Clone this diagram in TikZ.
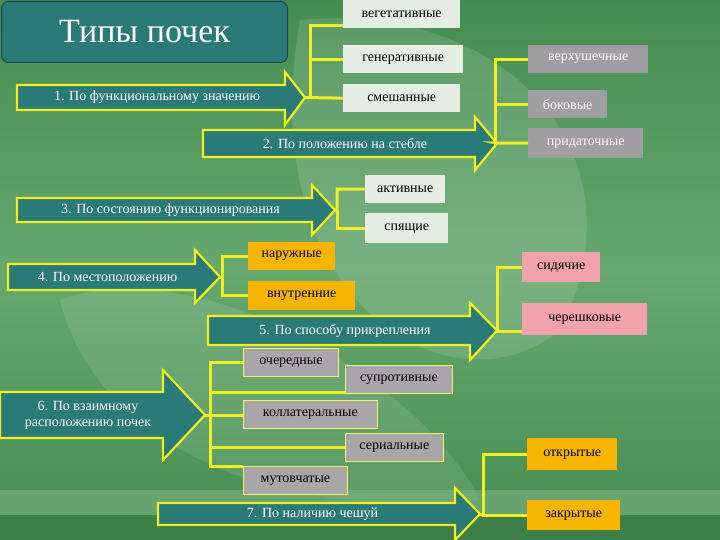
\documentclass[tikz,border=0pt]{standalone}
\usepackage{fontspec}
\setmainfont{Liberation Serif}
\begin{document}
\begin{tikzpicture}[x=1pt,y=-1pt,
  ar/.style={fill=teal1,draw=yel,line width=2.2pt,line join=miter},
  atext/.style={text=white,font=\fontsize{14}{16}\selectfont,inner sep=0pt},
  bx/.style={anchor=north west,inner sep=0pt,font=\fontsize{14}{16}\selectfont},
  lt/.style={bx,fill=lightb},
  gr/.style={bx,fill=grayb,text=white},
  gr2/.style={bx,fill=grayc,draw=yel!70!white,line width=0.8pt},
  og/.style={bx,fill=orb},
  pk/.style={bx,fill=pkb},
  br/.style={draw=yel,line width=3pt}]
\definecolor{teal1}{HTML}{2A7A78}
\definecolor{yel}{HTML}{F0F020}
\definecolor{lightb}{HTML}{E6EEE4}
\definecolor{grayb}{HTML}{A09EA0}
\definecolor{grayc}{HTML}{A8A6A8}
\definecolor{orb}{HTML}{F7B500}
\definecolor{pkb}{HTML}{F2A2AA}
\definecolor{bg1}{HTML}{458C50}
\definecolor{bg2}{HTML}{66A870}
\useasboundingbox (0,0) rectangle (720,540);
\shade[top color=bg1,bottom color=bg1,middle color=bg2] (0,0) rectangle (720,540);
\fill[white,opacity=0.12] (300,20) .. controls (500,0) and (650,150) .. (560,330) .. controls (450,420) and (250,300) .. cycle;
\fill[white,opacity=0.1] (60,300) .. controls (200,250) and (420,380) .. (480,500) .. controls (300,520) and (100,460) .. cycle;
\fill[bg2!80!white,opacity=0.5] (0,490) rectangle (720,515);
\fill[bg1!80!black,opacity=0.5] (0,515) rectangle (720,540);
% title
\node[fill=teal1,draw=teal1!60!black,line width=1pt,rounded corners=7pt,anchor=north west,minimum width=286pt,minimum height=61pt,text=white,font=\fontsize{34}{38}\selectfont] (title) at (1,1) {Типы почек};
\newcommand\barrow[9]{%
  \path[ar] (#2,#4)--(#3,#4)--(#3,#6)--(#8,{(#4+#5)/2})--(#3,#7)--(#3,#5)--(#2,#5)--cycle;
  \coordinate (#1tip) at (#8,{(#4+#5)/2});
  \node[atext] (#1) at ({(#2+#3)/2+6},{(#4+#5)/2}) {#9};}
% boxes
\node[lt,minimum width=117pt,minimum height=28pt] (veg) at (343,0) {вегетативные};
\node[lt,minimum width=120pt,minimum height=28pt] (gen) at (343,45) {генеративные};
\node[lt,minimum width=117pt,minimum height=28pt] (sme) at (343,84) {смешанные};
\node[gr,minimum width=120pt,minimum height=28pt] (ver) at (528,45) {верхушечные};
\node[gr,minimum width=79pt,minimum height=28pt] (bok) at (528,90) {боковые};
\node[gr,minimum width=115pt,minimum height=30pt] (pri) at (528,128) {придаточные};
\node[lt,minimum width=80pt,minimum height=28pt] (akt) at (365,175) {активные};
\node[lt,minimum width=83pt,minimum height=30pt] (spy) at (365,213) {спящие};
\node[og,minimum width=87pt,minimum height=28pt] (nar) at (248,242) {наружные};
\node[og,minimum width=107pt,minimum height=29pt] (vnu) at (248,281) {внутренние};
\node[pk,minimum width=78pt,minimum height=30pt] (sid) at (522,252) {сидячие};
\node[pk,minimum width=125pt,minimum height=32pt] (che) at (522,303) {черешковые};
\node[gr2,minimum width=95pt,minimum height=28pt] (och) at (243,348) {очередные};
\node[gr2,minimum width=107pt,minimum height=28pt] (sup) at (345,365) {супротивные};
\node[gr2,minimum width=134pt,minimum height=28pt] (kol) at (243,400) {коллатеральные};
\node[gr2,minimum width=98pt,minimum height=28pt] (ser) at (345,433) {сериальные};
\node[gr2,minimum width=104pt,minimum height=28pt] (mut) at (243,466) {мутовчатые};
\node[og,minimum width=90pt,minimum height=32pt] (otk) at (527,438) {открытые};
\node[og,minimum width=93pt,minimum height=30pt] (zak) at (527,500) {закрытые};
% arrows
\barrow{a1}{17}{285}{85}{110}{72}{125}{305}{1. По функциональному значению}
\barrow{a2}{203}{475}{130}{157}{117}{170}{497}{2. По положению на стебле}
\barrow{a3}{17}{312}{198}{222}{185}{235}{335}{3. По состоянию функционирования}
\barrow{a4}{8}{195}{264}{290}{250}{303}{220}{4. По местоположению}
\barrow{a5}{208}{470}{316}{345}{303}{360}{497}{5. По способу прикрепления}
\path[ar] (0,392)--(163,392)--(163,370)--(205,415)--(163,460)--(163,438)--(0,438)--cycle;
\coordinate (a6tip) at (205,415);
\node[atext,align=center] (a6) at (88,415) {6. По взаимному\\расположению почек};
\barrow{a7}{158}{455}{503}{525}{488}{540}{480}{7. По наличию чешуй}
% brackets
\draw[br] (a1tip) -| (310,26) -- (veg.south west|-0,26);
\draw[br] (310,60) |- (gen.west);
\draw[br] (a1tip) -- (sme.west);
\draw[br] (a2tip) -| (ver.west-|495,0) -- (ver.west);
\draw[br] (495,104) |- (bok.west);
\draw[br] (a2tip) -- (495,143) -- (pri.west);
\draw[br] (a3tip) -| (337,189) -- (akt.west);
\draw[br] (337,210) |- (spy.west);
\draw[br] (a4tip) -| (nar.west-|222,0) -- (nar.west);
\draw[br] (222,277) |- (vnu.west);
\draw[br] (a5tip) -| (sid.west-|497,0) -- (sid.west);
\draw[br] (497,331) -- (che.west|-497,331);
\draw[br] (a6tip) -- (210,415) |- (och.west);
\draw[br] (210,392) -- (sup.west|-0,392);
\draw[br] (a6tip) -- (kol.west|-0,415);
\draw[br] (210,415) |- (ser.west|-0,447);
\draw[br] (210,445) |- (mut.north west);
\draw[br] (a7tip) -| (otk.west-|483,0) -- (otk.west);
\draw[br] (483,513) |- (zak.west);
\end{tikzpicture}
\end{document}
